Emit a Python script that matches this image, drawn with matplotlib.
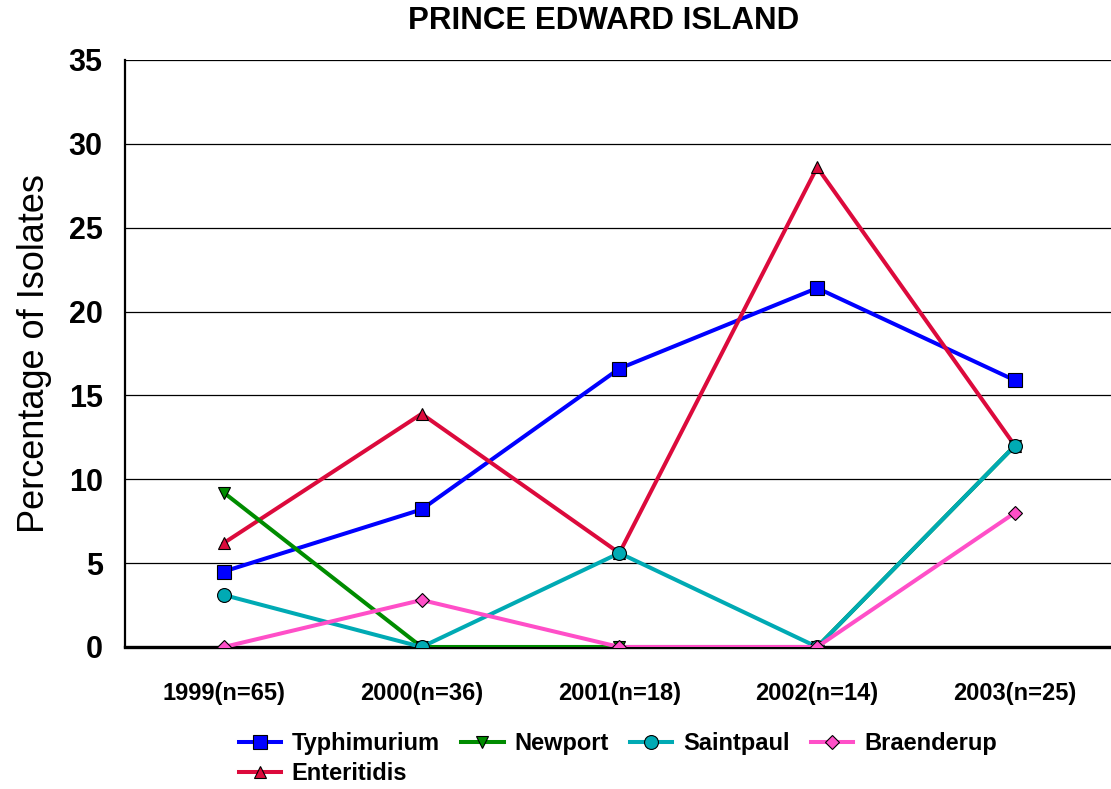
import matplotlib
matplotlib.use("Agg")
import matplotlib.pyplot as plt

plt.rcParams["font.family"] = ["Liberation Sans", "DejaVu Sans"]

# data
years = ["1999(n=65)", "2000(n=36)", "2001(n=18)", "2002(n=14)", "2003(n=25)"]
typhimurium = [4.5, 8.2, 16.6, 21.4, 15.9]
newport = [9.2, 0.0, 0.0, 0.0, 12.0]
saintpaul = [3.1, 0.0, 5.6, 0.0, 12.0]
braenderup = [0.0, 2.8, 0.0, 0.0, 8.0]
enteritidis = [6.2, 13.9, 5.6, 28.6, 12.0]

fig = plt.figure(figsize=(11.11, 7.89), dpi=100)
ax = fig.add_axes([0.1125, 0.18, 0.89, 0.744])

x = range(len(years))
common = dict(linewidth=2.9, markeredgecolor="black", markeredgewidth=0.8)

# zorder follows how the lines overlap in the reference
l_typ, = ax.plot(x, typhimurium, color="#0000FF", marker="s", markersize=10,
                 label="Typhimurium", zorder=3, **common)
l_ent, = ax.plot(x, enteritidis, color="#DC0A3C", marker="^", markersize=9,
                 label="Enteritidis", zorder=4, **common)
l_new, = ax.plot(x, newport, color="#008C00", marker="v", markersize=9,
                 label="Newport", zorder=5, **common)
l_sai, = ax.plot(x, saintpaul, color="#00AAB4", marker="o", markersize=10,
                 label="Saintpaul", zorder=6, **common)
l_bra, = ax.plot(x, braenderup, color="#FF4FC8", marker="D", markersize=7,
                 label="Braenderup", zorder=7, **common)

ax.set_xlim(-0.5, 4.5)
ax.set_ylim(0, 35)
ax.set_yticks(range(0, 36, 5))
ax.set_xticks(list(x))
ax.set_xticklabels(years, fontsize=17, fontweight="bold")
ax.tick_params(axis="x", length=0, pad=25)
ax.tick_params(axis="y", length=0, pad=16, labelsize=22)
for lab in ax.get_yticklabels():
    lab.set_fontweight("bold")

ax.grid(axis="y", color="black", linewidth=0.9, zorder=0)
ax.set_axisbelow(True)
ax.spines["top"].set_visible(False)
ax.spines["right"].set_visible(False)
ax.spines["left"].set_linewidth(1.6)
ax.spines["bottom"].set_linewidth(2.4)

ax.set_ylabel("Percentage of Isolates", fontsize=26, labelpad=12)
fig.suptitle("PRINCE EDWARD ISLAND", fontsize=22.5, fontweight="bold",
             x=0.543, y=0.992)

fig.legend([l_typ, l_ent, l_new, l_sai, l_bra],
           ["Typhimurium", "Enteritidis", "Newport", "Saintpaul", "Braenderup"],
           ncol=4, loc="upper center", bbox_to_anchor=(0.556, 0.087),
           frameon=False, prop=dict(size=17, weight="bold"),
           handlelength=1.8, handletextpad=0.45, columnspacing=0.9,
           labelspacing=0.3, borderpad=0)

fig.savefig("out.png", dpi=100)
